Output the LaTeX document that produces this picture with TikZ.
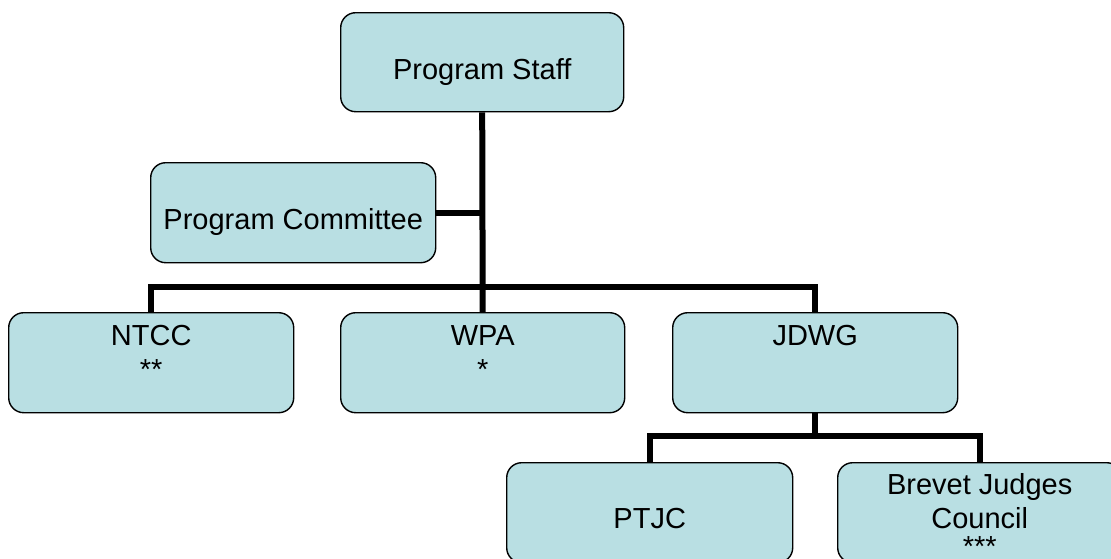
\documentclass[tikz,border=0pt]{standalone}
\usepackage{fontspec}
\setmainfont{Liberation Sans}
\usetikzlibrary{backgrounds}
\definecolor{boxfill}{RGB}{185,223,227}
\tikzset{
  orgbox/.style={draw=black, line width=1.4pt, fill=boxfill, rounded corners=15pt,
    minimum width=284pt, minimum height=100pt, inner sep=0pt, anchor=north west},
  lbl/.style={anchor=north, inner sep=0pt, align=center, text=black,
    font=\fontsize{29}{34}\selectfont},
  conn/.style={draw=black, line width=6pt}
}
\newcommand{\tstrut}{\rule{0pt}{21pt}}
\begin{document}
\begin{tikzpicture}[x=1pt,y=-1pt]
\useasboundingbox (0,0) rectangle (1111,558);
\clip (0,0) rectangle (1111,558);
% boxes
\path (340,12) node[orgbox, minimum width=283pt, minimum height=99pt] (staff) {};
\path (150,162) node[orgbox, minimum width=285pt] (committee) {};
\path (8,312) node[orgbox, minimum width=285pt] (ntcc) {};
\path (340,312) node[orgbox] (wpa) {};
\path (672,312) node[orgbox, minimum width=285pt] (jdwg) {};
\path (506,462) node[orgbox, minimum width=286pt] (ptjc) {};
\path (837,462) node[orgbox] (brevet) {};
% connectors behind the boxes
\begin{scope}[on background layer]
\draw[conn] (staff.south) -- (wpa.north);
\draw[conn] (committee.east) -- (committee.east -| wpa.north);
\draw[conn] (ntcc.north) -- ++(0,-25) -| (jdwg.north);
\draw[conn] (jdwg.south) -- ++(0,25);
\draw[conn] (ptjc.north) -- ++(0,-26) -| (brevet.north);
\end{scope}
% labels
\node[lbl] (tstaff) at ([yshift=-46pt]staff.north) {\tstrut Program Staff};
\node[lbl] (tcomm) at ([yshift=-46pt]committee.north) {\tstrut Program Committee};
\node[lbl] (tntcc) at ([yshift=-12pt]ntcc.north) {\tstrut NTCC\\**};
\node[lbl] (twpa) at ([yshift=-12pt]wpa.north) {\tstrut WPA\\*};
\node[lbl] (tjdwg) at ([yshift=-12pt]jdwg.north) {\tstrut JDWG};
\node[lbl] (tptjc) at ([yshift=-45pt]ptjc.north) {\tstrut PTJC};
\node[lbl] (tbrevet) at ([yshift=-11pt]brevet.north) {\tstrut Brevet Judges\\Council\\[-6pt]***};
\end{tikzpicture}
\end{document}
